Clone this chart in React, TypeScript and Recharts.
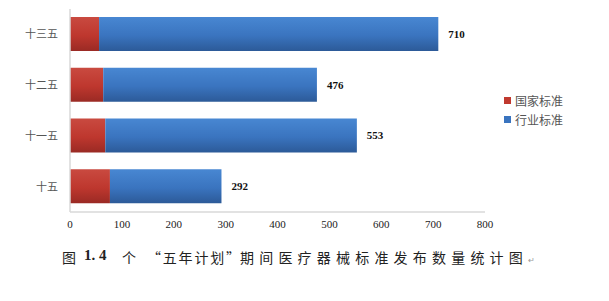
import { BarChart, Bar, XAxis, YAxis, Legend, LabelList } from 'recharts';

// 五年计划 periods, top to bottom
const periods = ['十三五', '十二五', '十一五', '十五'];
const nationalStd = [56, 64, 68, 77];
const industryStd = [654, 412, 485, 215];
const xTicks = [0, 100, 200, 300, 400, 500, 600, 700, 800];

const seriesColors: Record<string, string> = {
  national: '#c0392f',
  industry: '#3a74bf',
};

const data = periods.map((name, i) => ({
  name,
  national: nationalStd[i],
  industry: industryStd[i],
  total: nationalStd[i] + industryStd[i],
}));

const serif = '"Liberation Serif", "Times New Roman", serif';
const cjk = '"Noto Sans CJK SC", sans-serif';

function LegendBox({ payload }: any) {
  return (
    <div style={{ fontFamily: cjk, fontSize: 12, color: '#555' }}>
      {(payload || []).map((item: any) => (
        <div key={item.value} style={{ display: 'flex', alignItems: 'center', height: 19 }}>
          <span
            style={{
              display: 'inline-block',
              width: 7,
              height: 7,
              marginRight: 4,
              background: seriesColors[item.dataKey],
            }}
          />
          {item.value}
        </div>
      ))}
    </div>
  );
}

export default function App() {
  return (
    <div style={{ position: 'absolute', left: 0, top: 0, width: 609, height: 301, background: '#fff' }}>
      <BarChart
        width={609}
        height={240}
        data={data}
        layout="vertical"
        // the legend box (80px) is reserved on the right as well
        margin={{ top: 9, right: 44, left: 10, bottom: 0 }}
      >
        <defs>
          <linearGradient id="gradNational" x1="0" y1="0" x2="0" y2="1">
            <stop offset="0%" stopColor="#c94a40" />
            <stop offset="55%" stopColor="#be372e" />
            <stop offset="100%" stopColor="#9a2a24" />
          </linearGradient>
          <linearGradient id="gradIndustry" x1="0" y1="0" x2="0" y2="1">
            <stop offset="0%" stopColor="#4887d2" />
            <stop offset="55%" stopColor="#3a74bf" />
            <stop offset="100%" stopColor="#2c5a98" />
          </linearGradient>
        </defs>
        <XAxis
          type="number"
          domain={[0, 800]}
          ticks={xTicks}
          height={28}
          axisLine={{ stroke: '#d9d9d9', strokeWidth: 1.5 }}
          tickLine={false}
          tick={{ fontFamily: serif, fontSize: 11, fill: '#222' }}
        />
        <YAxis
          type="category"
          dataKey="name"
          width={60}
          axisLine={{ stroke: '#d9d9d9', strokeWidth: 1.5 }}
          tickLine={false}
          tickMargin={6}
          tick={{ fontFamily: cjk, fontSize: 11, fill: '#555' }}
        />
        <Legend
          layout="vertical"
          align="right"
          verticalAlign="top"
          content={<LegendBox />}
          wrapperStyle={{ left: 504, top: 91, width: 80 }}
        />
        <Bar
          dataKey="national"
          name="国家标准"
          stackId="std"
          fill="url(#gradNational)"
          barSize={34}
          isAnimationActive={false}
        />
        <Bar
          dataKey="industry"
          name="行业标准"
          stackId="std"
          fill="url(#gradIndustry)"
          barSize={34}
          isAnimationActive={false}
        >
          <LabelList
            dataKey="total"
            position="right"
            offset={10}
            style={{ fontFamily: serif, fontSize: 11, fontWeight: 'bold', fill: '#111' }}
          />
        </Bar>
      </BarChart>
      <div style={{ position: 'absolute', top: 247, left: 0, height: 20, fontFamily: cjk, fontSize: 14, color: '#222', whiteSpace: 'nowrap' }}>
        <span style={{ position: 'absolute', left: 62 }}>图</span>
        <span style={{ position: 'absolute', left: 84, fontFamily: serif, fontWeight: 'bold', fontSize: 15 }}>1. 4</span>
        <span style={{ position: 'absolute', left: 122 }}>个</span>
        <span style={{ position: 'absolute', left: 147, letterSpacing: 1.8 }}>“五年计划”</span>
        <span style={{ position: 'absolute', left: 240, letterSpacing: 5.2 }}>
          期间医疗器械标准发布数量统计图
          <span style={{ fontSize: 8, color: '#999', letterSpacing: 0 }}>↵</span>
        </span>
      </div>
    </div>
  );
}
